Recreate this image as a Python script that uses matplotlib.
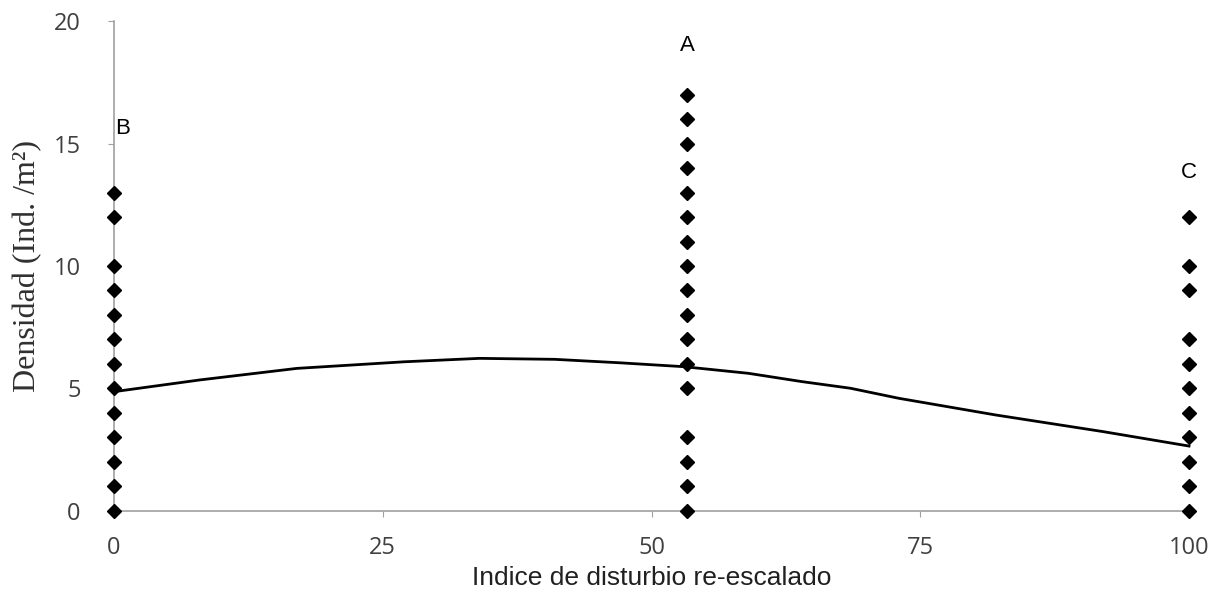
import matplotlib
matplotlib.use("Agg")
import matplotlib.pyplot as plt
import numpy as np

# density per site (Ind./m2) for the three disturbance groups
x_b = 0
y_b = [0, 1, 2, 3, 4, 5, 6, 7, 8, 9, 10, 12, 13]
x_a = 53.3
y_a = [0, 1, 2, 3, 5, 6, 7, 8, 9, 10, 11, 12, 13, 14, 15, 16, 17]
x_c = 100
y_c = [0, 1, 2, 3, 4, 5, 6, 7, 9, 10, 12]

# trend line
trend_x = [0, 8, 17, 27, 34, 41, 47, 53, 59, 64, 68.5, 73, 82, 92, 100]
trend_y = [4.87, 5.35, 5.82, 6.09, 6.23, 6.19, 6.05, 5.89, 5.62, 5.28, 5.01, 4.60, 3.92, 3.24, 2.65]

group_labels = ["B", "A", "C"]
xticks = [0, 25, 50, 75, 100]
yticks = [0, 5, 10, 15, 20]

fig = plt.figure(figsize=(12.21, 6.11), dpi=100)
ax = fig.add_axes([0.0934, 0.1637, 0.8804, 0.8019])

ax.plot(trend_x, trend_y, color='black', lw=2, zorder=2, clip_on=False)
for xv, ys in [(x_b, y_b), (x_a, y_a), (x_c, y_c)]:
    ax.plot([xv] * len(ys), ys, linestyle='none', marker='D', ms=7.5,
            color='black', zorder=3, clip_on=False)

# group letters above each column
ax.text(x_b + 0.8, max(y_b) + 2.6, group_labels[0], fontsize=16, family='Liberation Sans', ha='center', va='center')
ax.text(x_a, max(y_a) + 2.0, group_labels[1], fontsize=16, family='Liberation Sans', ha='center', va='center')
ax.text(x_c, max(y_c) + 1.8, group_labels[2], fontsize=16, family='Liberation Sans', ha='center', va='center')

ax.set_xlim(0, 100)
ax.set_ylim(0, 20)
ax.set_xticks(xticks)
ax.set_yticks(yticks)
for s in ['top', 'right']:
    ax.spines[s].set_visible(False)
for s in ['left', 'bottom']:
    ax.spines[s].set_color('#a0a0a0')
    ax.spines[s].set_linewidth(1.2)
ax.tick_params(axis='both', colors='#a0a0a0', length=4, labelcolor='#404040', labelsize=17)
ax.tick_params(axis='y', pad=20)
ax.tick_params(axis='x', pad=14)
for lab in ax.get_xticklabels() + ax.get_yticklabels():
    lab.set_family('Open Sans')

ax.set_xlabel("Indice de disturbio re-escalado", fontsize=19, family='Liberation Sans', color='#202020', labelpad=4)
ax.set_ylabel("Densidad (Ind. /m²)", fontsize=23, family='Liberation Serif', color='#303030', labelpad=8)

fig.savefig("out.png", dpi=100)
